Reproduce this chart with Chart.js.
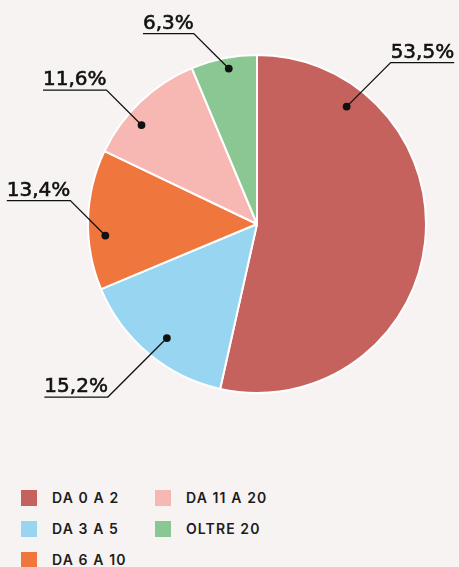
<!DOCTYPE html>
<html>
<head>
<meta charset="utf-8">
<script src="https://cdn.jsdelivr.net/npm/chart.js@4"></script>
<style>
  body { margin: 0; background: #F7F3F2; }
  #wrap { position: relative; width: 459px; height: 567px; }
  #legend {
    position: absolute; left: 21px; top: 482px;
    display: grid; grid-auto-flow: column;
    grid-template-columns: 134px auto; grid-template-rows: repeat(3, 31px);
    font-family: Inter, sans-serif; font-weight: 600; font-size: 14px;
    letter-spacing: 1.1px; color: #1c1c1c;
  }
  .item { display: flex; align-items: center; height: 31px; }
  .box { width: 16px; height: 16px; margin-right: 15px; }
</style>
</head>
<body>
<div id="wrap">
  <canvas id="pie" width="459" height="470"></canvas>
  <div id="legend"></div>
</div>
<script>
// shares by years of age
var categories = ['DA 0 A 2', 'DA 3 A 5', 'DA 6 A 10', 'DA 11 A 20', 'OLTRE 20'];
var shares = [53.5, 15.2, 13.4, 11.6, 6.3];
var colors = ['#C6625E', '#98D5F0', '#EF763C', '#F7B8B4', '#8BC792'];

// where each callout sits: fraction along the arc, fraction of radius, direction, elbow length
var callouts = [
  { at: 0.194, depth: 0.874, dx: 1, dy: -1, elbow: 44 },
  { at: 0.47, depth: 0.86, dx: -1, dy: 1, elbow: 59 },
  { at: 0.38, depth: 0.90, dx: -1, dy: -1, elbow: 35 },
  { at: 0.36, depth: 0.90, dx: -1, dy: -1, elbow: 35 },
  { at: 0.546, depth: 0.935, dx: -1, dy: -1, elbow: 35 }
];

function fmt(v) {
  return v.toFixed(1).replace('.', ',') + '%';
}

var calloutPlugin = {
  id: 'callouts',
  afterDatasetsDraw: function (chart) {
    var ctx = chart.ctx;
    var arcs = chart.getDatasetMeta(0).data;
    ctx.save();
    ctx.font = '20px "DejaVu Sans"';
    ctx.strokeStyle = '#111';
    ctx.fillStyle = '#111';
    arcs.forEach(function (arc, i) {
      var c = callouts[i];
      var a = arc.startAngle + (arc.endAngle - arc.startAngle) * c.at;
      var r = arc.outerRadius * c.depth;
      var px = arc.x + Math.cos(a) * r;
      var py = arc.y + Math.sin(a) * r;
      var ex = px + c.dx * c.elbow;
      var ey = py + c.dy * c.elbow;
      var text = fmt(shares[i]);
      var w = ctx.measureText(text).width;
      var tx = ex + c.dx * w;

      ctx.lineWidth = 1.3;
      ctx.beginPath();
      ctx.moveTo(px, py);
      ctx.lineTo(ex, ey);
      ctx.lineTo(tx, ey);
      ctx.stroke();

      ctx.beginPath();
      ctx.arc(px, py, 3.9, 0, Math.PI * 2);
      ctx.fill();

      // slightly heavier label text
      ctx.textAlign = c.dx > 0 ? 'left' : 'right';
      ctx.textBaseline = 'alphabetic';
      ctx.lineWidth = 0.6;
      ctx.fillText(text, ex, ey - 5);
      ctx.strokeText(text, ex, ey - 5);
    });
    ctx.restore();
  }
};

new Chart(document.getElementById('pie'), {
  type: 'pie',
  data: {
    labels: categories,
    datasets: [{
      data: shares,
      backgroundColor: colors,
      borderColor: '#ffffff',
      borderWidth: 2
    }]
  },
  options: {
    responsive: false,
    animation: false,
    layout: { padding: { left: 87, right: 32, top: 54, bottom: 76 } },
    plugins: { legend: { display: false }, tooltip: { enabled: false } }
  },
  plugins: [calloutPlugin]
});

// legend laid out column by column
var legend = document.getElementById('legend');
categories.forEach(function (name, i) {
  var item = document.createElement('div');
  item.className = 'item';
  item.innerHTML = '<span class="box" style="background:' + colors[i] + '"></span>' + name;
  legend.appendChild(item);
});
</script>
</body>
</html>
